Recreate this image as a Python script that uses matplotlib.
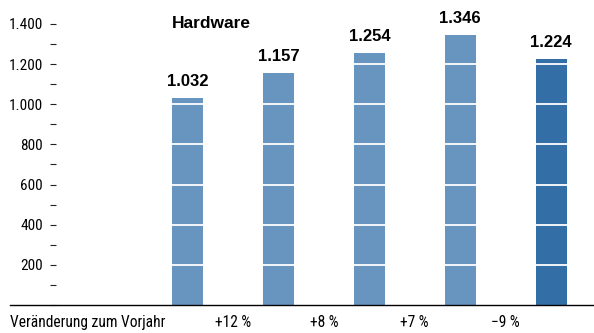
import matplotlib
import numpy as np

matplotlib.use("Agg")
import matplotlib.pyplot as plt
from matplotlib import font_manager
from matplotlib.ticker import MultipleLocator

installed = {f.name for f in font_manager.fontManager.ttflist}
narrow_pick = [n for n in ["Liberation Sans Narrow", "Roboto Condensed", "DejaVu Sans Condensed",
                           "Open Sans Condensed", "Noto Sans Condensed"] if n in installed]
NARROW = narrow_pick[:1] + ["Liberation Sans", "DejaVu Sans"]
BOLD = ["Liberation Sans", "DejaVu Sans"]

years = ["2019", "2020", "2021", "2022", "2023"]
revenue = [1032, 1157, 1254, 1346, 1224]
labels = ["1.032", "1.157", "1.254", "1.346", "1.224"]
changes = ["+12 %", "+8 %", "+7 %", "\u22129 %"]
yticks = [200, 400, 600, 800, 1000, 1200, 1400]

C_BAR = "#6795c0"
C_LAST = "#336ea7"

W, H = 594, 333
fig = plt.figure(figsize=(W / 100, H / 100), dpi=100)
# axes spans from the baseline start (x=10px) to the right edge
ax = fig.add_axes([10 / W, (H - 305) / H, 584 / W, (305 - 13.8) / H])

x = np.arange(len(years))
bw = 0.34
colors = [C_BAR] * (len(years) - 1) + [C_LAST]
ax.bar(x, revenue, width=bw, color=colors, zorder=1)

# white separators, only across the bars
for xi, v in zip(x, revenue):
    lines = [t for t in yticks if t < v]
    ax.hlines(lines, xi - bw / 2, xi + bw / 2, color="white", lw=1.3, zorder=2)

ax.set_xlim(-1.95, 4.47)
ax.set_ylim(0, 1450)

for xi, v, t in zip(x, revenue, labels):
    ax.text(xi, v + 45, t, ha="center", va="bottom", fontsize=12,
            fontweight="bold", family=BOLD)

ax.text(-0.17, 1400, "Hardware", ha="left", va="center", fontsize=12.5,
        fontweight="bold", family=BOLD)

for spine in ["top", "right", "left"]:
    ax.spines[spine].set_visible(False)
ax.spines["left"].set_position(("axes", (56 - 10) / 584))
ax.spines["bottom"].set_linewidth(1.0)

ax.set_xticks([])
ax.set_yticks(yticks)
ax.set_yticklabels([f"{v:,}".replace(",", ".") for v in yticks], family=NARROW,
                   fontsize=11)
ax.yaxis.set_minor_locator(MultipleLocator(100))
ax.tick_params(axis="y", which="both", direction="out", length=4.3, width=0.8,
               pad=5, color="#222222")

ax.text(-1.95, -85, "Ver\u00e4nderung zum Vorjahr", ha="left", va="center",
        fontsize=11.2, family=NARROW)
for i, c in enumerate(changes):
    ax.text(i + 0.5, -85, c, ha="center", va="center", fontsize=11.2,
            family=NARROW)

fig.savefig("out.png", dpi=100)
